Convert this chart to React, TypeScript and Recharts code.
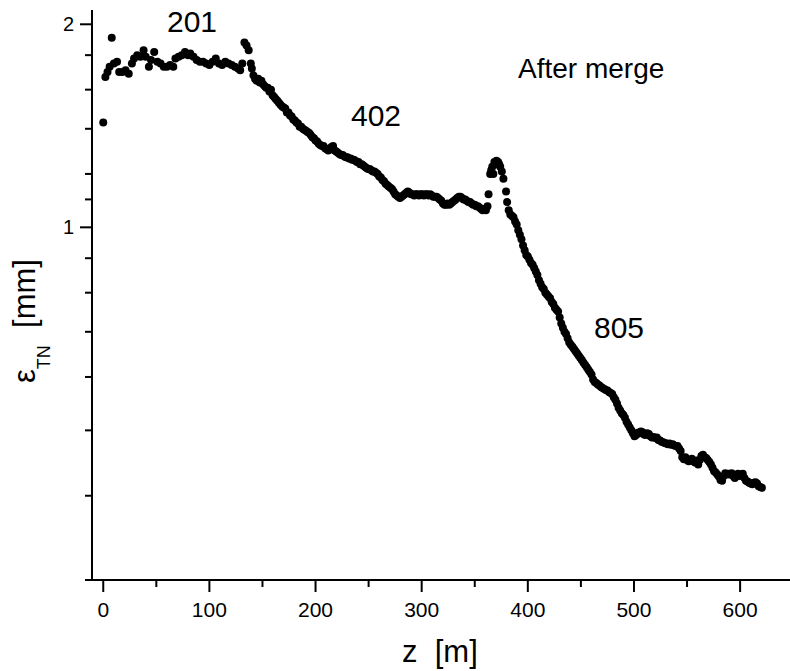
import { ScatterChart, Scatter, XAxis, YAxis, Customized } from 'recharts';

// readings [z (m), eps_TN (mm)], section by section along the line
const linac201: [number, number][] = [
  [0, 1.43], [2, 1.67], [4, 1.70], [6, 1.73], [8, 1.91], [10, 1.75], [13, 1.76], [15, 1.70], [18, 1.70], [21, 1.71],
  [24, 1.69], [27, 1.75], [29, 1.78], [32, 1.80], [35, 1.79], [38, 1.83], [40, 1.79], [43, 1.73], [45, 1.77], [48, 1.82],
  [51, 1.76], [54, 1.75], [57, 1.73], [60, 1.73], [63, 1.74], [66, 1.73], [68, 1.78], [71, 1.79], [74, 1.80], [77, 1.82],
  [80, 1.80], [82, 1.81], [85, 1.79], [88, 1.77], [91, 1.76], [94, 1.76], [97, 1.75], [100, 1.74], [103, 1.76], [106, 1.78],
  [109, 1.75], [112, 1.74], [115, 1.76], [118, 1.75], [121, 1.74], [124, 1.73], [127, 1.72], [129, 1.71], [131, 1.75], [133, 1.88],
  [135, 1.86], [137, 1.83], [139, 1.75],
];

const linac402: [number, number][] = [
  [140, 1.72], [141.5, 1.68], [143, 1.66], [144.5, 1.65], [146, 1.66], [147.5, 1.64], [149, 1.65], [150.5, 1.63], [152, 1.62], [153.5, 1.61],
  [155, 1.61], [156.5, 1.59], [158, 1.60], [159.5, 1.57], [161, 1.56], [162.5, 1.55], [164, 1.54], [165.5, 1.53], [167, 1.52], [168.5, 1.51],
  [170, 1.505], [171.5, 1.50], [173, 1.48], [174.5, 1.48], [176, 1.465], [177.5, 1.46], [179, 1.445], [180.5, 1.44], [182, 1.43], [183.5, 1.425],
  [185, 1.41], [186.5, 1.41], [188, 1.40], [189.5, 1.395], [191, 1.39], [192.5, 1.385], [194, 1.38], [195.5, 1.37], [197, 1.36], [198.5, 1.355],
  [200, 1.345], [201.5, 1.34], [203, 1.33], [204.5, 1.325], [206, 1.32], [207.5, 1.32], [209, 1.31], [210.5, 1.305], [212, 1.30], [213.5, 1.305],
  [215, 1.315], [216.5, 1.32], [218, 1.30], [219.5, 1.295], [221, 1.29], [222.5, 1.285], [224, 1.28], [225.5, 1.28], [227, 1.275], [228.5, 1.27],
  [230, 1.27], [231.5, 1.265], [233, 1.265], [234.5, 1.26], [236, 1.26], [237.5, 1.255], [239, 1.25], [240.5, 1.25], [242, 1.24], [243.5, 1.24],
  [245, 1.235], [246.5, 1.23], [248, 1.225], [249.5, 1.22], [251, 1.22], [252.5, 1.215], [254, 1.21], [255.5, 1.21], [257, 1.205], [258.5, 1.20],
  [260, 1.19], [261.5, 1.185], [263, 1.175], [264.5, 1.17], [266, 1.16], [267.5, 1.155], [269, 1.15], [270.5, 1.145], [272, 1.14], [273.5, 1.13],
  [275, 1.12], [276.5, 1.115], [278, 1.11], [279.5, 1.105], [281, 1.11], [282.5, 1.115], [284, 1.12], [285.5, 1.125], [287, 1.13], [288.5, 1.125],
  [290, 1.12], [291.5, 1.12], [293, 1.115], [294.5, 1.12], [296, 1.12], [297.5, 1.115], [299, 1.12], [300.5, 1.12], [302, 1.115], [303.5, 1.12],
  [305, 1.12], [306.5, 1.115], [308, 1.12], [309.5, 1.115], [311, 1.11], [312.5, 1.11], [314, 1.11], [315.5, 1.105], [317, 1.10], [318.5, 1.095],
  [320, 1.085], [321.5, 1.08], [323, 1.08], [324.5, 1.085], [326, 1.08], [327.5, 1.085], [329, 1.09], [330.5, 1.095], [332, 1.10], [333.5, 1.105],
  [335, 1.11], [336.5, 1.11], [338, 1.105], [339.5, 1.10], [341, 1.10], [342.5, 1.095], [344, 1.09], [345.5, 1.09], [347, 1.085], [348.5, 1.08],
  [350, 1.08], [351.5, 1.075], [353, 1.075], [354.5, 1.07], [356, 1.065], [357.5, 1.06], [359, 1.065], [360.5, 1.06], [362, 1.075],
];

const mergeBump: [number, number][] = [
  [363, 1.12], [364.5, 1.20], [365.5, 1.215], [366.5, 1.23], [367.5, 1.20], [368.5, 1.25], [369.5, 1.24], [370.5, 1.255], [372, 1.25], [373, 1.24],
  [374, 1.23], [375.5, 1.21], [377, 1.18], [379.5, 1.13], [380.5, 1.09],
];

const linac805: [number, number][] = [
  [382, 1.06], [383.5, 1.045], [385, 1.04], [386.5, 1.035], [388, 1.02], [389.5, 1.01], [391, 0.99], [392.5, 0.975], [394, 0.96], [395.5, 0.94],
  [397, 0.925], [398.5, 0.91], [400, 0.905], [401.5, 0.895], [403, 0.885], [404.5, 0.88], [406, 0.87], [407.5, 0.86], [409, 0.85], [410.5, 0.835],
  [412, 0.825], [413.5, 0.815], [415, 0.81], [416.5, 0.80], [418, 0.795], [419.5, 0.79], [421, 0.785], [422.5, 0.775], [424, 0.77], [425.5, 0.76],
  [427, 0.755], [428.5, 0.75], [430, 0.735], [431.5, 0.72], [433, 0.71], [434.5, 0.70], [436, 0.695], [437.5, 0.685], [439, 0.675], [440.5, 0.67],
  [442, 0.665], [443.5, 0.66], [445, 0.655], [446.5, 0.65], [448, 0.645], [449.5, 0.64], [451, 0.635], [452.5, 0.63], [454, 0.625], [455.5, 0.62],
  [457, 0.615], [458.5, 0.61], [460, 0.605], [461.5, 0.595], [463, 0.59], [464.5, 0.588], [466, 0.585], [467.5, 0.583], [469, 0.58], [470.5, 0.578],
  [472, 0.576], [473.5, 0.574], [475, 0.573], [476.5, 0.57], [478, 0.568], [479.5, 0.566], [481, 0.56], [482.5, 0.555], [484, 0.548], [485.5, 0.54],
  [487, 0.535], [488.5, 0.53], [490, 0.527], [491.5, 0.522], [493, 0.515], [494.5, 0.51], [496, 0.505], [497.5, 0.50], [499, 0.495], [500.5, 0.49],
];

const tailEnd: [number, number][] = [
  [502, 0.492], [503.5, 0.496], [505, 0.495], [506.5, 0.498], [508, 0.497], [509.5, 0.493], [511, 0.492], [512.5, 0.495], [514, 0.494], [515.5, 0.49],
  [517, 0.488], [518.5, 0.489], [520, 0.487], [521.5, 0.488], [523, 0.484], [524.5, 0.483], [526, 0.481], [527.5, 0.48], [529, 0.479], [530.5, 0.478],
  [532, 0.477], [533.5, 0.478], [535, 0.476], [536.5, 0.477], [538, 0.475], [539.5, 0.474], [541, 0.474], [542.5, 0.47], [544, 0.466], [545.5, 0.456],
  [547, 0.453], [548.5, 0.456], [550, 0.452], [551.5, 0.45], [553, 0.451], [554.5, 0.454], [556, 0.45], [557.5, 0.448], [559, 0.451], [560.5, 0.445],
  [562, 0.452], [563.5, 0.458], [565, 0.46], [566.5, 0.456], [568, 0.455], [569.5, 0.452], [571, 0.449], [572.5, 0.445], [574, 0.44], [575.5, 0.435],
  [577, 0.433], [578.5, 0.43], [580, 0.427], [581.5, 0.422], [583, 0.421], [584.5, 0.428], [586, 0.432], [587.5, 0.43], [589, 0.431], [590.5, 0.43],
  [592, 0.432], [593.5, 0.428], [595, 0.425], [596.5, 0.429], [598, 0.431], [599.5, 0.428], [601, 0.43], [602.5, 0.431], [604, 0.425], [605.5, 0.421],
  [607, 0.42], [608.5, 0.418], [610, 0.417], [611.5, 0.416], [613, 0.418], [614.5, 0.419], [616, 0.417], [617.5, 0.413], [619, 0.412], [620.5, 0.411],
];

const xTicks = [0, 50, 100, 150, 200, 250, 300, 350, 400, 450, 500, 550, 600];
const xLabelled = [0, 100, 200, 300, 400, 500, 600];
const yTicks = [0.3, 0.4, 0.5, 0.6, 0.7, 0.8, 0.9, 1, 1.1, 1.2, 1.3, 1.4, 1.5, 1.6, 1.7, 1.8, 1.9, 2];
const yLabelled = [1, 2];

const data = [...linac201, ...linac402, ...mergeBump, ...linac805, ...tailEnd].map(([z, eps]) => ({ z, eps }));

const FONT = '"Liberation Sans", Arial, Helvetica, sans-serif';

const XTick = (props: any) => {
  const { x, y, payload } = props;
  const major = xLabelled.includes(payload.value);
  return (
    <g>
      <line x1={x} x2={x} y1={y} y2={y + (major ? 12 : 7)} stroke="#000" strokeWidth={2} />
      {major && (
        <text x={x} y={y + 37} textAnchor="middle" fontSize={21} fontFamily={FONT} fill="#000">
          {payload.value}
        </text>
      )}
    </g>
  );
};

const YTick = (props: any) => {
  const { x, y, payload } = props;
  const major = yLabelled.includes(payload.value);
  return (
    <g>
      <line x1={x - (major ? 12 : 7)} x2={x} y1={y} y2={y} stroke="#000" strokeWidth={2} />
      {major && (
        <text x={x - 18} y={y + 7} textAnchor="end" fontSize={20} fontFamily={FONT} fill="#000">
          {payload.value}
        </text>
      )}
    </g>
  );
};

const Dot = (props: any) => <circle cx={props.cx} cy={props.cy} r={4} fill="#000" />;

const Notes = () => (
  <g fontFamily={FONT} fill="#000">
    <text x={167} y={32} fontSize={30}>201</text>
    <text x={351} y={126} fontSize={30}>402</text>
    <text x={594} y={338} fontSize={30}>805</text>
    <text x={518} y={78} fontSize={28}>After merge</text>
    <text x={402} y={662} fontSize={31}>z{'\u00A0\u00A0'}[m]</text>
    <text transform="translate(35, 383) rotate(-90)" fontSize={31}>
      <tspan>ε</tspan>
      <tspan fontSize={18} dy={15}>TN</tspan>
      <tspan dy={-15}>{'\u00A0\u00A0'}[mm]</tspan>
    </text>
  </g>
);

export default function App() {
  return (
    <div style={{ position: 'absolute', left: 0, top: 0, background: '#fff' }}>
      <ScatterChart width={790} height={671} margin={{ top: 10, right: 0, bottom: 0, left: 0 }}>
        <XAxis
          type="number"
          dataKey="z"
          domain={[-10.6, 647]}
          allowDataOverflow
          ticks={xTicks}
          height={91}
          tickSize={0}
          tickMargin={0}
          tickLine={false}
          tick={XTick}
          axisLine={{ stroke: '#000', strokeWidth: 2 }}
        />
        <YAxis
          type="number"
          dataKey="eps"
          scale="log"
          domain={[0.3, 2.1]}
          allowDataOverflow
          ticks={yTicks}
          width={92}
          tickSize={0}
          tickMargin={0}
          tickLine={false}
          tick={YTick}
          axisLine={{ stroke: '#000', strokeWidth: 2 }}
        />
        <Scatter data={data} fill="#000" shape={Dot} isAnimationActive={false} />
        <Customized component={Notes} />
      </ScatterChart>
    </div>
  );
}
